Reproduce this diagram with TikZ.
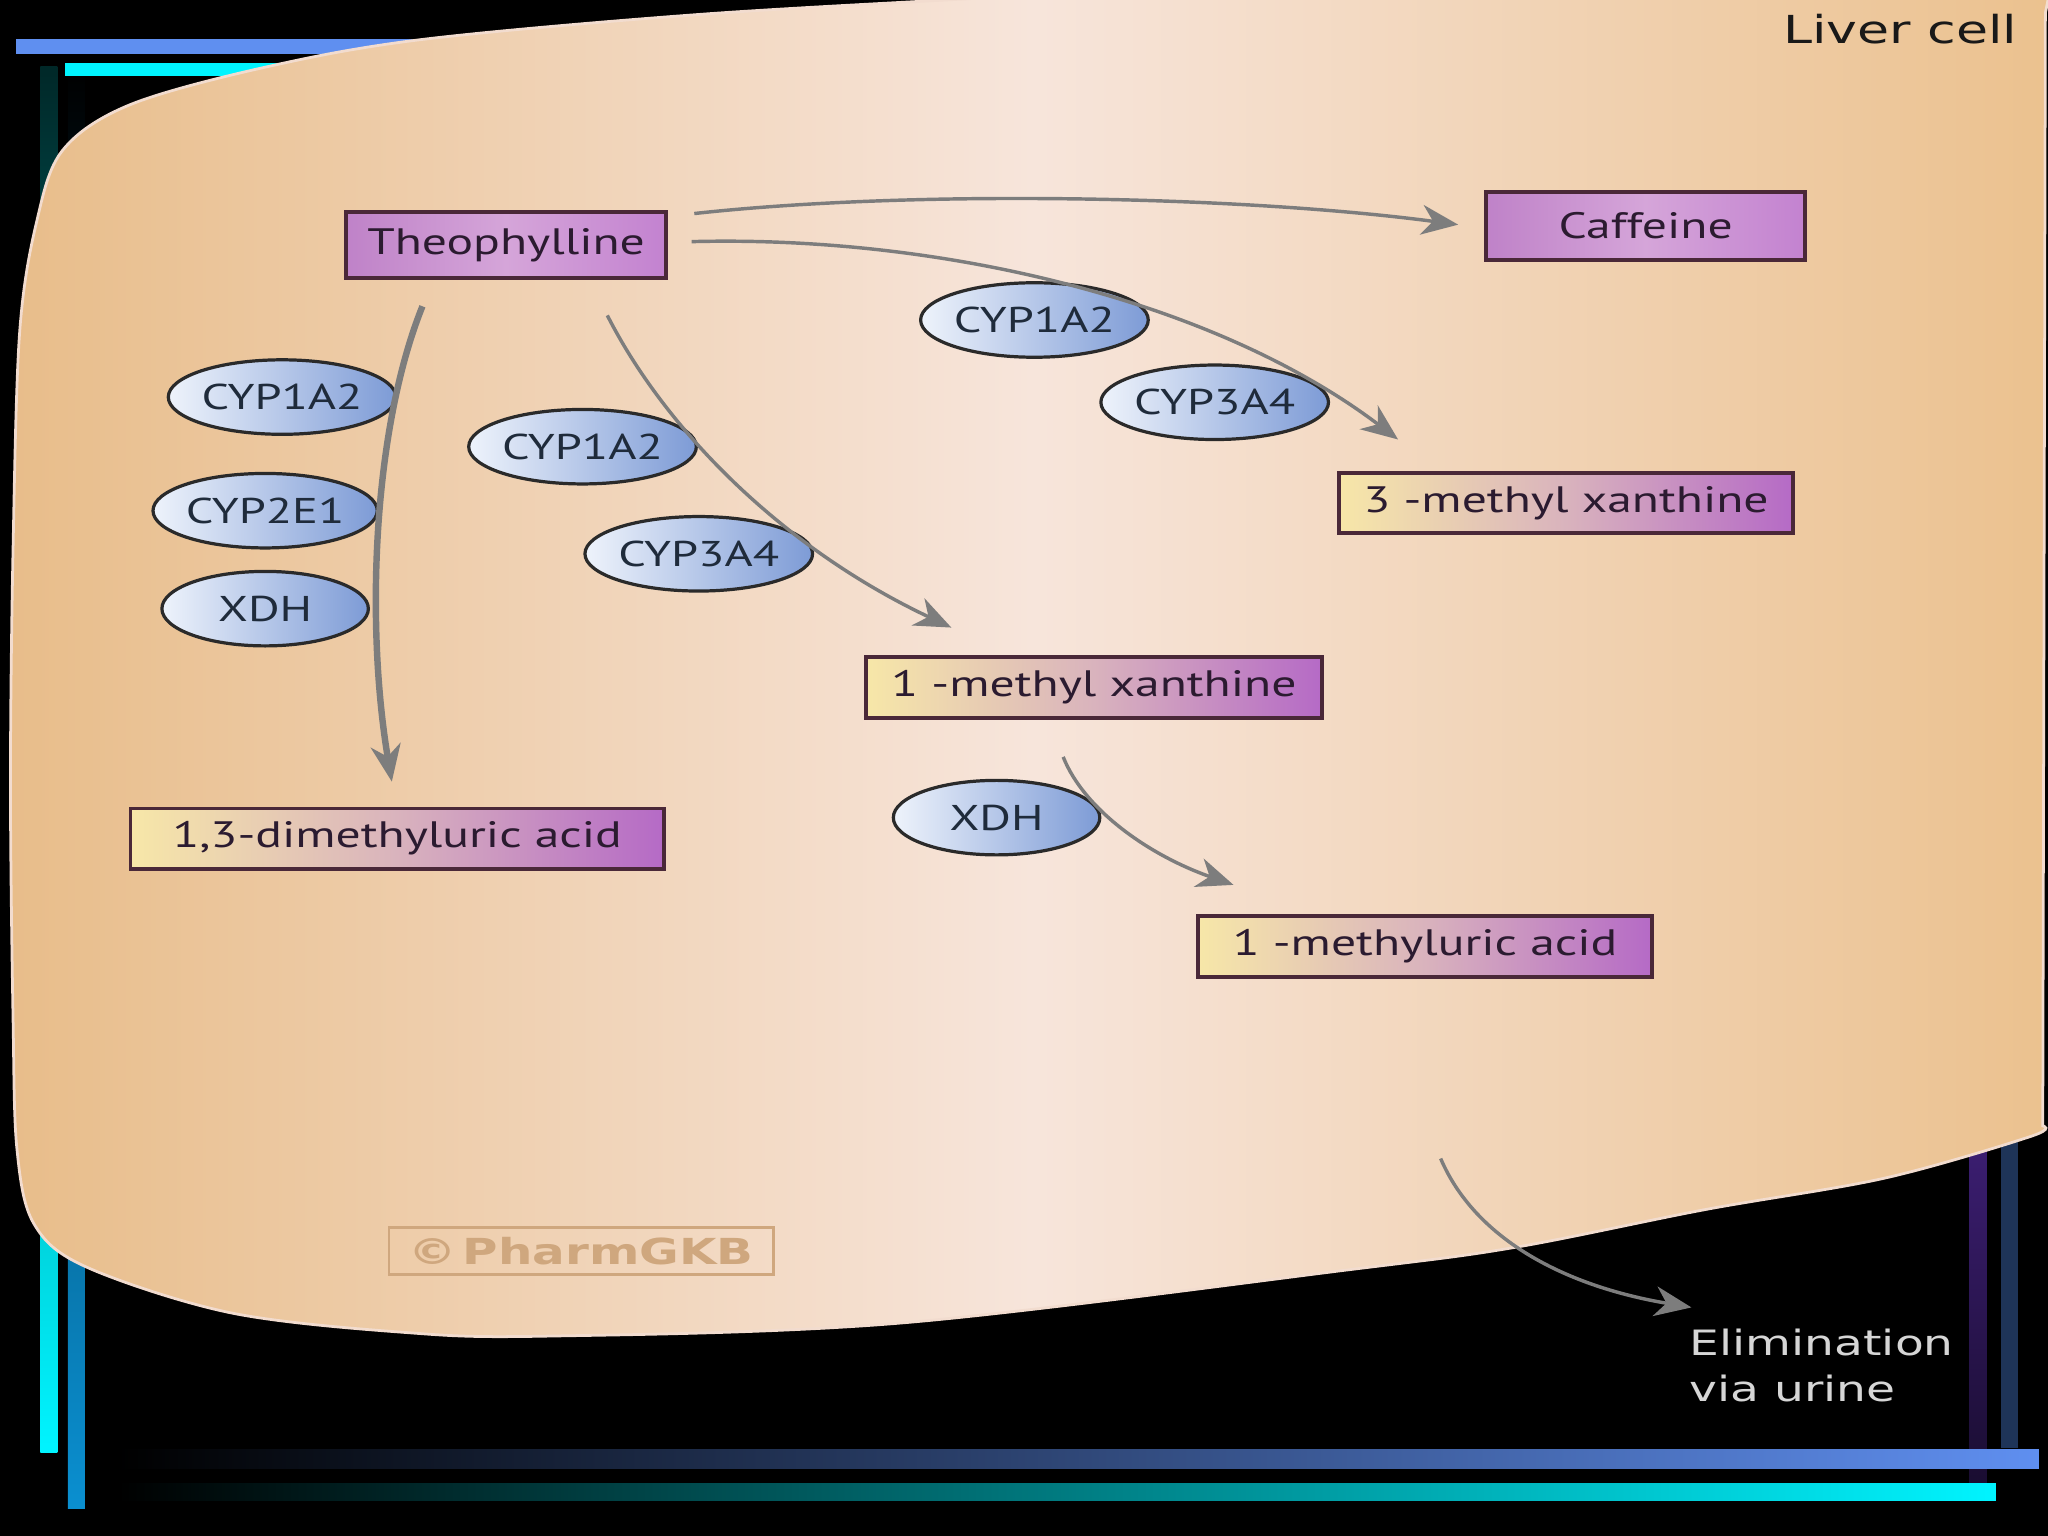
\documentclass[tikz,border=0pt]{standalone}
\usepackage{fontspec}
\usetikzlibrary{arrows.meta,calc,shapes.geometric}
\newfontfamily\labfont[FakeStretch=1.35]{PT Sans}
\newfontfamily\verfont[FakeStretch=1.35]{DejaVu Sans}
\definecolor{celltan}{HTML}{E8BD8A}
\definecolor{celllight}{HTML}{F7E5DB}
\definecolor{celltanr}{HTML}{EBC18E}
\definecolor{cellline}{HTML}{F2DCCF}
\definecolor{boxline}{HTML}{4A2838}
\definecolor{boxtext}{HTML}{2B1B30}
\definecolor{pl}{HTML}{BF82C8}
\definecolor{pm}{HTML}{D5A5D9}
\definecolor{pr}{HTML}{C382D0}
\definecolor{xl}{HTML}{F7E7A8}
\definecolor{xm}{HTML}{D9B3BD}
\definecolor{xr}{HTML}{B56AC6}
\definecolor{el}{HTML}{EEF3FB}
\definecolor{er}{HTML}{7D9BD6}
\definecolor{ellline}{HTML}{2A2A2A}
\definecolor{enztext}{HTML}{1F2B3B}
\definecolor{arrowgray}{HTML}{7D7D7D}
\definecolor{pgk}{HTML}{CFA77E}
\definecolor{elimgray}{HTML}{D6D6D6}
\definecolor{topblue}{HTML}{5F8FF0}
\definecolor{cyanbar}{HTML}{00F4FF}
\definecolor{darkteal}{HTML}{002828}
\definecolor{midblue}{HTML}{0A8FD0}
\definecolor{purplebar}{HTML}{40207A}
\definecolor{navybar}{HTML}{1E3458}
\tikzset{
  met/.style={draw=boxline, line width=0.85pt, inner sep=0pt, text=boxtext,
    font=\labfont\fontsize{8}{9}\selectfont},
  purplebox/.style={met, left color=pl, right color=pr, middle color=pm},
  xanbox/.style={met, left color=xl, right color=xr, middle color=xm},
  enz/.style={ellipse, draw=ellline, line width=0.7pt, left color=el, right color=er,
    minimum width=1.58cm, minimum height=0.57cm, inner sep=0pt, text=enztext,
    font=\labfont\fontsize{7.8}{9}\selectfont},
  flow/.style={draw=arrowgray, line width=0.75pt,
    -{Stealth[length=8pt,width=6.5pt,inset=2.5pt]}},
  thickflow/.style={flow, line width=1.4pt}
}
\begin{document}
\begin{tikzpicture}[x=0.01cm,y=-0.01cm]
\useasboundingbox (0,0) rectangle (1568,1176);
\fill[black] (0,0) rectangle (1568,1176);
% decorative bars
\shade[top color=darkteal, bottom color=cyanbar] (31,51) rectangle (44,1112);
\shade[top color=black, bottom color=midblue] (52,51) rectangle (65,1155);
\shade[top color=purplebar, bottom color=purplebar!40!black] (1508,840) rectangle (1521,1136);
\fill[navybar] (1532,840) rectangle (1545,1109);
\fill[topblue] (12,30) rectangle (420,41);
\fill[cyanbar] (50,48) rectangle (420,58);
\shade[left color=black, right color=topblue] (90,1110) rectangle (1561,1124);
\shade[left color=black, right color=cyanbar] (90,1136) rectangle (1528,1149);
% liver cell
\path[left color=celltan, right color=celltanr, middle color=celllight, draw=cellline, line width=0.6pt]
  plot[smooth, tension=0.55] coordinates {(1564,862) (1555,870) (1443,902) (1306,926) (1160,955) (1034,972) (689,1013) (417,1023) (308,1020) (176,1005) (66,970) (26,937) (13,880) (10,780) (8,600) (10,420) (15,255) (28,170) (48,115) (100,80) (205,51) (325,30) (536,11) (760,-2) (900,-10)}
  -- (1570,-10) -- (1566,10) -- cycle;
\node[font=\verfont\fontsize{8.4}{10}\selectfont, text=black!90, inner sep=0pt] (lc) at (1455,22) {Liver cell};
\node[draw=pgk, line width=0.6pt, minimum width=2.94cm, minimum height=0.36cm, inner sep=0pt, text=pgk,
  font=\verfont\bfseries\fontsize{7.8}{9}\selectfont] (pg) at (445,958) {©\,PharmGKB};
% metabolites
\node[purplebox, minimum width=2.45cm, minimum height=0.51cm] (theo) at (387.5,187.5) {Theophylline};
\node[purplebox, minimum width=2.44cm, minimum height=0.52cm] (caf) at (1260,173) {Caffeine};
\node[xanbox, minimum width=3.48cm, minimum height=0.46cm] (mx3) at (1199,385) {3 -methyl xanthine};
\node[xanbox, minimum width=3.49cm, minimum height=0.47cm] (mx1) at (837.5,526.5) {1 -methyl xanthine};
\node[xanbox, minimum width=4.08cm, minimum height=0.46cm] (dmu) at (304,642) {1,3-dimethyluric acid};
\node[xanbox, minimum width=3.48cm, minimum height=0.47cm] (mu1) at (1091,724.5) {1 -methyluric acid};
% enzymes
\node[enz] (e1) at (216,304) {CYP1A2};
\node[enz] (e2) at (203,391) {CYP2E1};
\node[enz] (e3) at (203,466) {XDH};
\node[enz] (e4) at (446,342) {CYP1A2};
\node[enz] (e5) at (535,424) {CYP3A4};
\node[enz] (e6) at (792,245) {CYP1A2};
\node[enz] (e7) at (930,308) {CYP3A4};
\node[enz] (e8) at (763,626) {XDH};
% elimination label
\node[anchor=north west, align=left, inner sep=0pt, text=elimgray,
  font=\verfont\fontsize{7.6}{10}\selectfont] (elim) at (1293,1017) {Elimination\\via urine};
% arrows
\draw[flow] ($(theo.north east)+(20,3)$) .. controls (700,145) and (950,150) .. ($(caf.west)+(-20,-1)$);
\draw[flow] ($(theo.east)+(18,-2.5)$) .. controls (720,180) and (930,230) .. ($(mx3.north west)+(47,-24)$);
\draw[flow] ($(theo.south)+(77.5,27)$) .. controls (510,330) and (600,420) .. ($(mx1.north west)+(67,-21)$);
\draw[thickflow] ($(theo.south west)+(60,20)$) .. controls (285,330) and (280,480) .. ($(dmu.north)+(-4,-19)$);
\draw[flow] ($(mx1.south)+(-23.5,28)$) .. controls (830,620) and (880,655) .. ($(mu1.north west)+(29,-22)$);
\coordinate (elimstart) at (1103,887);
\draw[flow] (elimstart) .. controls (1130,950) and (1200,985) .. ($(elim.north west)+(2,-16)$);
\end{tikzpicture}
\end{document}
